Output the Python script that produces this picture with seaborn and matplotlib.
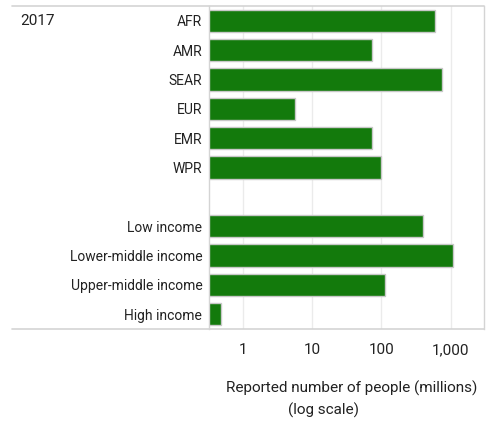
import numpy as np
import pandas as pd
import matplotlib
matplotlib.use("Agg")
import matplotlib.pyplot as plt
import matplotlib.ticker as mticker
from matplotlib.lines import Line2D
import seaborn as sns

# data (millions of people, 2017)
regions = ["AFR", "AMR", "SEAR", "EUR", "EMR", "WPR"]
region_vals = [600, 74, 740, 5.6, 74, 99]
income = ["Low income", "Lower-middle income", "Upper-middle income", "High income"]
income_vals = [400, 1080, 113, 0.49]
year = "2017"
xticks = [1, 10, 100, 1000]
xtick_labels = ["1", "10", "100", "1,000"]

order = regions + [""] + income
df = pd.DataFrame({"group": regions + income, "people": region_vals + income_vals})

sns.set_style("white")
plt.rcParams["font.family"] = ["Roboto", "DejaVu Sans"]

fig = plt.figure(figsize=(4.92, 4.23), dpi=100)
ax = fig.add_axes([0.4254, 0.2222, 0.559, 0.7636])

sns.barplot(data=df, y="group", x="people", order=order, color="#137a0c",
            edgecolor="#c8c8c8", linewidth=1, width=0.76, saturation=1, ax=ax)

ax.set_xscale("log")
ax.set_xlim(0.33, 3060)
ax.set_ylim(10.5, -0.5)
ax.set_xticks(xticks)
ax.set_xticklabels(xtick_labels)
ax.xaxis.set_minor_locator(mticker.LogLocator(base=10, subs=np.arange(2, 10)))
ax.xaxis.set_minor_formatter(mticker.NullFormatter())
ax.tick_params(axis="x", which="major", length=0, pad=10, labelsize=11, labelcolor="#222222")
ax.tick_params(axis="x", which="minor", length=2, color="#e0e0e0", width=0.8)
ax.tick_params(axis="y", length=0, pad=5, labelsize=10, labelcolor="#222222")
ax.set_xlabel("")
ax.set_ylabel("")
ax.grid(axis="x", which="major", color="#ebebeb", linewidth=1)
ax.set_axisbelow(True)

for s in ["left", "right"]:
    ax.spines[s].set_color("#d4d4d4")
    ax.spines[s].set_linewidth(1)
for s in ["top", "bottom"]:
    ax.spines[s].set_visible(False)

# frame lines that run across the label column
for yy in [0.9858, 0.2222]:
    fig.add_artist(Line2D([0.0244, 0.9844], [yy, yy], color="#d4d4d4", linewidth=1.2))

fig.text(0.041, 0.951, year, fontsize=11, color="#222222", va="center")
fig.text(0.715, 0.083, "Reported number of people (millions)", fontsize=11,
         color="#222222", ha="center", va="center")
fig.text(0.657, 0.031, "(log scale)", fontsize=11, color="#222222",
         ha="center", va="center")

fig.savefig("out.png", dpi=100)
